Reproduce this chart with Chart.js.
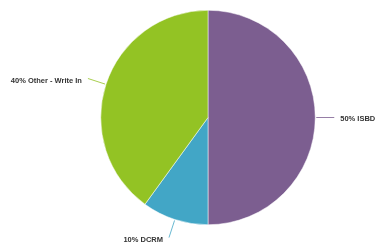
<!DOCTYPE html>
<html>
<head>
<meta charset="utf-8">
<script src="https://cdn.jsdelivr.net/npm/chart.js@4/dist/chart.umd.min.js"></script>
<style>
html,body{margin:0;padding:0;background:#fff;}
#wrap{width:376px;height:246px;position:relative;}
</style>
</head>
<body>
<div id="wrap"><canvas id="c" width="376" height="246"></canvas></div>
<script>
const categories = ["ISBD", "DCRM", "Other - Write In"];
const values = [50, 10, 40];
const colors = ["#7c5e90", "#42a6c6", "#93c324"];

const labelPlugin = {
  id: 'leaderLabels',
  afterDatasetsDraw(chart) {
    const ctx = chart.ctx;
    const meta = chart.getDatasetMeta(0);
    const total = values.reduce((a, b) => a + b, 0);
    ctx.save();
    meta.data.forEach((arc, i) => {
      const mid = (arc.startAngle + arc.endAngle) / 2;
      const dx = Math.cos(mid), dy = Math.sin(mid);
      const r = arc.outerRadius;
      const x0 = arc.x + dx * (r + 1), y0 = arc.y + dy * (r + 1);
      const x1 = arc.x + dx * (r + 19), y1 = arc.y + dy * (r + 19);
      ctx.strokeStyle = colors[i];
      ctx.globalAlpha = 0.8;
      ctx.lineWidth = 1;
      ctx.beginPath();
      ctx.moveTo(x0, y0);
      ctx.lineTo(x1, y1);
      ctx.stroke();
      ctx.globalAlpha = 1;
      const pct = Math.round(values[i] / total * 100);
      const txt = pct + "% " + categories[i];
      ctx.font = "bold 7.5px 'Liberation Sans', Arial, sans-serif";
      ctx.fillStyle = "#333333";
      ctx.textBaseline = "middle";
      if (dx >= 0) {
        ctx.textAlign = "left";
        ctx.fillText(txt, x1 + 6, y1 + 1);
      } else {
        ctx.textAlign = "right";
        ctx.fillText(txt, x1 - 6, y1 + 2);
      }
    });
    ctx.restore();
  }
};

new Chart(document.getElementById('c'), {
  type: 'pie',
  data: {
    labels: categories,
    datasets: [{
      data: values,
      backgroundColor: colors,
      borderColor: '#ffffff',
      borderWidth: 0.5
    }]
  },
  options: {
    responsive: false,
    animation: false,
    layout: { padding: { left: 100.5, right: 60.5, top: 10, bottom: 21 } },
    plugins: { legend: { display: false }, tooltip: { enabled: false } }
  },
  plugins: [labelPlugin]
});
</script>
</body>
</html>
